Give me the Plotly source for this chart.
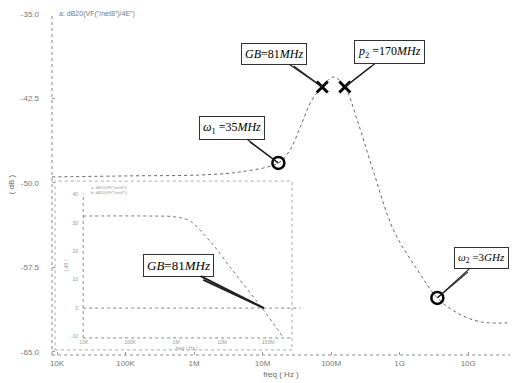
import plotly.graph_objects as go

# ---- main curve: closed-loop response (log10 freq, dB) ----
main_logf = [3.927, 5.07, 6.09, 6.67, 7.23, 7.40, 7.55, 7.72, 7.87, 8.03, 8.20, 8.38,
             8.61, 8.91, 9.26, 9.55, 9.84, 10.18, 10.57]
main_db = [-49.46, -49.37, -49.29, -49.02, -48.22, -47.07, -45.03, -42.63, -41.48, -40.59,
           -41.48, -44.41, -48.84, -54.17, -57.72, -60.20, -61.53, -62.33, -62.42]

# ---- inset curve: open-loop gain ----
inset_logf = [3.98, 5.43, 5.98, 6.30, 6.63, 6.85, 7.17, 7.50, 7.87, 8.15, 8.33]
inset_db = [32.4, 32.4, 32.1, 30.7, 25.5, 21.4, 14.5, 7.6, 0.0, -6.2, -10.3]

# ---- marked points ----
cross_logf = [7.87, 8.20]
cross_db = [-41.48, -41.48]
circle_logf = [7.23, 9.55]
circle_db = [-48.22, -60.20]

x_tickvals = [1e4, 1e5, 1e6, 1e7, 1e8, 1e9, 1e10]
x_ticktext = ["10K", "100K", "1M", "10M", "100M", "1G", "10G"]
y_tickvals = [-65.0, -57.5, -50.0, -42.5, -35.0]
y_ticktext = ["-65.0", "-57.5", "-50.0", "-42.5", "-35.0"]

inset_xvals = [1e4, 1e5, 1e6, 1e7, 1e8]
inset_xtext = ["10K", "100K", "1M", "10M", "100M"]
inset_yvals = [-10, 0, 10, 20, 30, 40]
inset_ytext = ["-10", "0", "10", "20", "30", "40"]

gb_inset_logf = 7.908

fig = go.Figure()
fig.add_trace(go.Scatter(x=[10 ** v for v in main_logf], y=main_db, mode="lines",
                         line=dict(color="#666", width=1, dash="dot", shape="spline"),
                         showlegend=False))
fig.add_trace(go.Scatter(x=[10 ** v for v in cross_logf], y=cross_db, mode="markers",
                         marker=dict(symbol="x-thin", size=11, line=dict(color="black", width=3)),
                         showlegend=False))
fig.add_trace(go.Scatter(x=[10 ** v for v in circle_logf], y=circle_db, mode="markers",
                         marker=dict(symbol="circle-open", size=12, color="black",
                                     line=dict(color="black", width=2.5)),
                         showlegend=False))
fig.add_trace(go.Scatter(x=[10 ** v for v in inset_logf], y=inset_db, mode="lines",
                         xaxis="x2", yaxis="y2",
                         line=dict(color="#777", width=1, dash="dot", shape="spline"),
                         showlegend=False))

tickfont = dict(family="Liberation Sans", size=8, color="#777")
fig.update_layout(
    width=514, height=383,
    margin=dict(l=52, r=4, t=14, b=28),
    paper_bgcolor="white", plot_bgcolor="white",
    xaxis=dict(type="log", range=[3.927, 10.61], tickvals=x_tickvals, ticktext=x_ticktext,
               showgrid=False, zeroline=False, showline=False, ticks="inside", ticklen=3,
               tickcolor="#999", tickfont=tickfont, ticklabelstandoff=2,
               title=dict(text="freq ( Hz )", font=dict(family="Liberation Sans", size=8, color="#666"),
                          standoff=4)),
    yaxis=dict(range=[-65.27, -35], tickvals=y_tickvals, ticktext=y_ticktext,
               showgrid=False, zeroline=False, showline=False, ticks="inside", ticklen=3,
               tickcolor="#999", tickfont=tickfont, ticklabelstandoff=12,
               title=dict(text="( dB )", font=dict(family="Liberation Sans", size=8, color="#666"),
                          standoff=4)),
    xaxis2=dict(type="log", range=[3.98, 8.48], domain=[0.068, 0.52], anchor="y2",
                tickvals=inset_xvals, ticktext=inset_xtext, showgrid=False, zeroline=False,
                showline=False, ticks="", tickfont=dict(family="Liberation Sans", size=5, color="#999"),
                ticklabelstandoff=0,
                title=dict(text="freq ( Hz )", font=dict(family="Liberation Sans", size=5, color="#999"),
                           standoff=0)),
    yaxis2=dict(range=[-10.5, 40.5], domain=[0.05, 0.475], anchor="x2",
                tickvals=inset_yvals, ticktext=inset_ytext, showgrid=False, zeroline=False,
                showline=False, ticks="", tickfont=dict(family="Liberation Sans", size=5, color="#999"),
                ticklabelstandoff=4,
                title=dict(text="( dB )", font=dict(family="Liberation Sans", size=5, color="#999"),
                           standoff=2)),
)

dot = dict(color="#888", width=1, dash="dot")
shapes = [
    dict(type="line", xref="paper", yref="paper", x0=0, x1=0, y0=0, y1=1, line=dot),
    dict(type="line", xref="paper", yref="paper", x0=0, x1=1, y0=0, y1=0, line=dot),
    dict(type="rect", xref="paper", yref="paper", x0=0.0066, x1=0.524, y0=0.015, y1=0.51,
         line=dict(color="#aaa", width=1, dash="dot")),
    dict(type="line", xref="x2 domain", yref="y2 domain", x0=0, x1=0, y0=0, y1=1, line=dot),
    dict(type="line", xref="x2 domain", yref="y2 domain", x0=0, x1=1, y0=0, y1=0, line=dot),
    dict(type="line", xref="x2 domain", yref="y2", x0=0, x1=1.05, y0=0, y1=0, line=dot),
]

serif = dict(family="Liberation Serif", size=12, color="black")
ann = []


def callout(logx, y, text, ax, ay, ax2, ay2, xref="x", yref="y", font=serif, width=1.2):
    ann.append(dict(x=logx, y=y, xref=xref, yref=yref, text=text, showarrow=True, arrowhead=0,
                    arrowwidth=width, arrowcolor="#222", ax=ax, ay=ay, font=font,
                    bordercolor="#333", borderwidth=1, borderpad=3, bgcolor="white"))
    # second edge of the callout wedge
    ann.append(dict(x=logx, y=y, xref=xref, yref=yref, text="", showarrow=True, arrowhead=0,
                    arrowwidth=width, arrowcolor="#222", ax=ax2, ay=ay2))


callout(cross_logf[0], cross_db[0], "<i>GB</i>=81<i>MHz</i>", -48, -33, -30, -22)
callout(cross_logf[1], cross_db[1], "<i>p</i><sub>2</sub> =170<i>MHz</i>", 45, -35, 28, -22)
callout(circle_logf[0], circle_db[0], "<i>ω</i><sub>1</sub> =35<i>MHz</i>", -46, -35, -30, -22)
callout(circle_logf[1], circle_db[1], "<i>ω</i><sub>2</sub> =3<i>GHz</i>", 44, -40, 32, -27,
        font=dict(family="Liberation Serif", size=11, color="black"))
callout(gb_inset_logf, 0, "<i>GB</i>=81<i>MHz</i>", -85, -43, -62, -29,
        xref="x2", yref="y2", font=dict(family="Liberation Serif", size=13, color="black"), width=2)

ann.append(dict(x=0.012, y=1.0, xref="paper", yref="paper", xanchor="left", yanchor="middle",
                text='a: dB20(VF("/net8")/4E")', showarrow=False,
                font=dict(family="Liberation Sans", size=7, color="#777")))
ann.append(dict(x=0.08, y=0.505, xref="paper", yref="paper", xanchor="left", yanchor="top",
                text='a: dB20(VF("/net8"))<br>b: dB20(VF("/net4"))', showarrow=False, align="left",
                font=dict(family="Liberation Sans", size=4, color="#999")))

fig.update_layout(annotations=ann, shapes=shapes)
fig.write_html("out.html")
